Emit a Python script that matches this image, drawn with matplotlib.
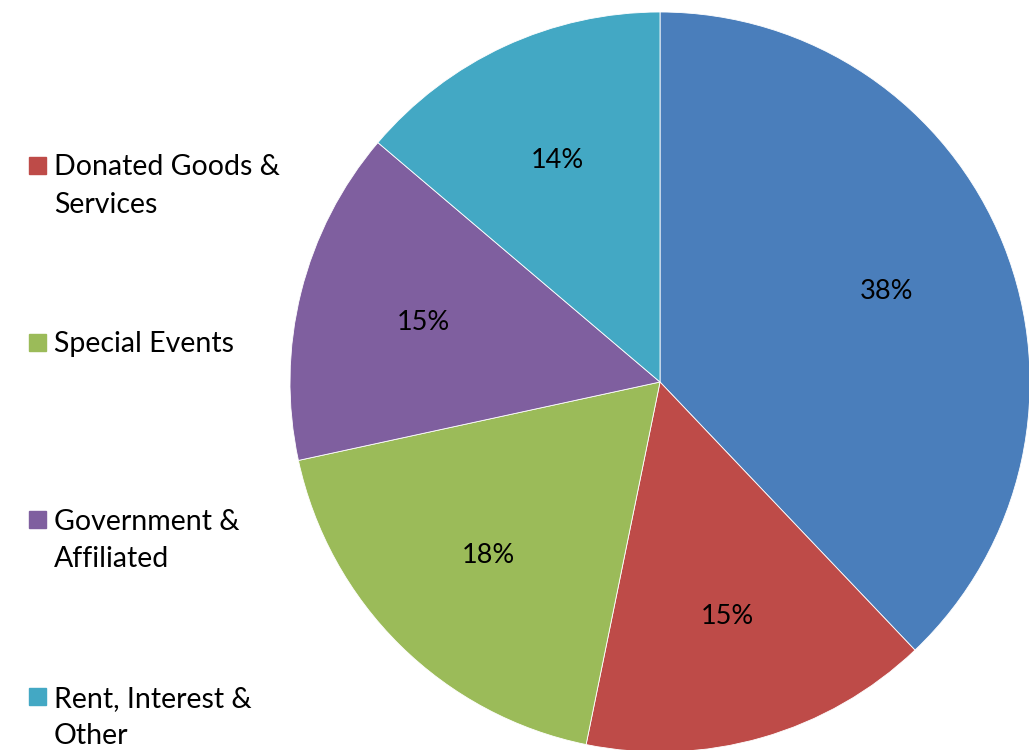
import matplotlib.pyplot as plt
from matplotlib.patches import Rectangle

# revenue shares (percent), clockwise from 12 o'clock
categories = ['Contributions', 'Donated Goods & Services', 'Special Events',
              'Government & Affiliated', 'Rent, Interest & Other']
legend_text = ['Contributions', 'Donated Goods &\nServices', 'Special Events',
               'Government &\nAffiliated', 'Rent, Interest &\nOther']
shares = [37.9, 15.3, 18.4, 14.6, 13.8]
colors = ['#4A7EBB', '#BE4B48', '#9BBB59', '#7F5F9F', '#43A8C4']

plt.rcParams['font.family'] = ['Lato', 'DejaVu Sans']

W, H = 1029, 750
fig = plt.figure(figsize=(W / 100, H / 100), dpi=100)

# pie: centre (660, 382) px, radius 370 px
cx, cy, r = 660, 382, 370
ax = fig.add_axes([(cx - r) / W, (H - cy - r) / H, 2 * r / W, 2 * r / H])
wedges, texts, autotexts = ax.pie(shares, colors=colors, startangle=90, counterclock=False,
                                  autopct='%.0f%%', pctdistance=0.66, radius=1,
                                  wedgeprops=dict(edgecolor='white', linewidth=0.6),
                                  textprops=dict(fontsize=19.5, color='black'))
ax.set_xlim(-1, 1)
ax.set_ylim(-1, 1)
ax.set_aspect('equal')
ax.axis('off')

# legend on the left; the first (blue) entry sits above the visible area
y_first = 168
step = 177.3
for i in range(1, len(categories)):
    y = y_first + (i - 1) * step
    fig.patches.append(Rectangle((29 / W, 1 - (y + 5.5) / H), 17 / W, 17 / H,
                                 transform=fig.transFigure, color=colors[i]))
    fig.text(54 / W, 1 - (y - 14) / H, legend_text[i], fontsize=20.5, va='top', ha='left',
             linespacing=1.55)

fig.savefig('out.png', dpi=100)
